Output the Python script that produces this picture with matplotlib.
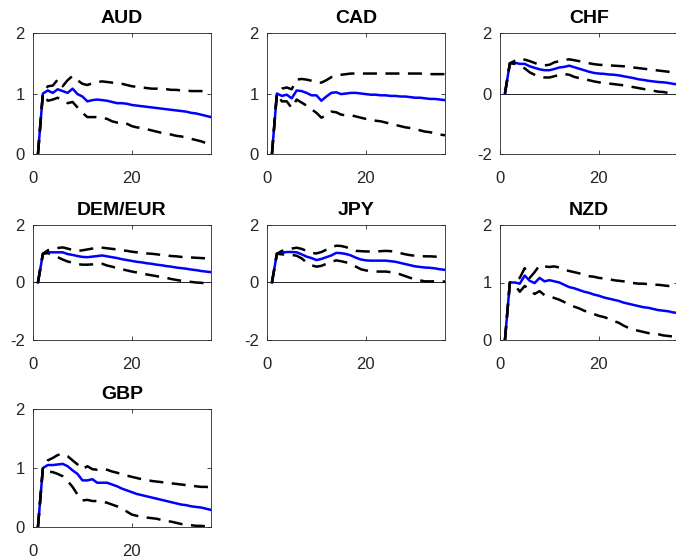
import numpy as np
import matplotlib
matplotlib.use("Agg")
import matplotlib.pyplot as plt

plt.rcParams["font.family"] = ["Liberation Sans", "DejaVu Sans"]
plt.rcParams["axes.unicode_minus"] = False

horizon = np.arange(1, 37)

titles = ["AUD", "CAD", "CHF", "DEM/EUR", "JPY", "NZD", "GBP"]
ylims = [(0, 2), (0, 2), (-2, 2), (-2, 2), (-2, 2), (0, 2), (0, 2)]
yticks = [[0, 1, 2], [0, 1, 2], [-2, 0, 2], [-2, 0, 2], [-2, 0, 2], [0, 1, 2], [0, 1, 2]]

aud_mid = [0, 1.00, 1.05, 1.01, 1.07, 1.04, 1.01, 1.08, 0.99, 0.95, 0.87, 0.89, 0.90, 0.89, 0.88, 0.86, 0.84, 0.84,
           0.83, 0.81, 0.80, 0.79, 0.78, 0.77, 0.76, 0.75, 0.74, 0.73, 0.72, 0.71, 0.70, 0.68, 0.67, 0.65, 0.63, 0.61]
aud_up = [0, 1.00, 1.12, 1.13, 1.23, 1.12, 1.22, 1.29, 1.22, 1.16, 1.14, 1.17, 1.19, 1.20, 1.19, 1.18, 1.17, 1.16,
          1.14, 1.12, 1.11, 1.10, 1.09, 1.08, 1.08, 1.07, 1.07, 1.06, 1.06, 1.05, 1.05, 1.04, 1.04, 1.04, 1.03, 1.03]
aud_lo = [0, 1.00, 0.88, 0.90, 0.93, 0.88, 0.84, 0.86, 0.77, 0.68, 0.61, 0.61, 0.61, 0.60, 0.58, 0.54, 0.52, 0.53,
          0.50, 0.46, 0.44, 0.43, 0.41, 0.39, 0.37, 0.35, 0.34, 0.32, 0.30, 0.29, 0.27, 0.25, 0.23, 0.21, 0.18, 0.16]

cad_mid = [0, 1.00, 0.96, 0.98, 0.92, 1.05, 1.04, 1.01, 0.97, 0.97, 0.88, 0.95, 1.01, 1.02, 0.99, 1.00, 1.01, 1.01,
           1.00, 0.99, 0.98, 0.98, 0.97, 0.97, 0.96, 0.96, 0.95, 0.95, 0.94, 0.93, 0.93, 0.92, 0.91, 0.91, 0.90, 0.89]
cad_up = [0, 1.00, 1.08, 1.10, 1.07, 1.23, 1.24, 1.23, 1.21, 1.18, 1.18, 1.22, 1.27, 1.30, 1.31, 1.32, 1.33, 1.33,
          1.33, 1.33, 1.33, 1.33, 1.33, 1.33, 1.33, 1.33, 1.33, 1.33, 1.33, 1.33, 1.33, 1.32, 1.32, 1.32, 1.32, 1.32]
cad_lo = [0, 1.00, 0.87, 0.87, 0.76, 0.90, 0.85, 0.80, 0.74, 0.68, 0.60, 0.64, 0.70, 0.69, 0.65, 0.64, 0.64, 0.62,
          0.60, 0.58, 0.57, 0.55, 0.54, 0.52, 0.50, 0.48, 0.46, 0.44, 0.43, 0.41, 0.39, 0.37, 0.36, 0.34, 0.32, 0.31]

chf_mid = [0, 1.00, 1.02, 0.98, 0.98, 0.90, 0.85, 0.80, 0.77, 0.77, 0.81, 0.86, 0.88, 0.92, 0.87, 0.82, 0.77, 0.72,
           0.68, 0.66, 0.65, 0.63, 0.62, 0.60, 0.57, 0.54, 0.51, 0.47, 0.45, 0.42, 0.40, 0.38, 0.37, 0.35, 0.32, 0.30]
chf_up = [0, 1.00, 1.08, 1.06, 1.12, 1.07, 1.01, 0.95, 0.93, 0.95, 1.03, 1.07, 1.11, 1.13, 1.10, 1.07, 1.04, 1.00,
          0.97, 0.95, 0.94, 0.93, 0.92, 0.91, 0.90, 0.88, 0.86, 0.84, 0.82, 0.80, 0.78, 0.76, 0.74, 0.72, 0.70, 0.68]
chf_lo = [0, 1.00, 0.98, 0.92, 0.83, 0.70, 0.62, 0.56, 0.53, 0.53, 0.57, 0.62, 0.64, 0.62, 0.55, 0.51, 0.48, 0.44,
          0.40, 0.37, 0.35, 0.33, 0.31, 0.29, 0.27, 0.24, 0.21, 0.18, 0.15, 0.12, 0.09, 0.06, 0.05, 0.02, 0.00, -0.02]

dem_mid = [0, 1.00, 1.05, 1.05, 1.05, 1.05, 0.99, 0.96, 0.92, 0.89, 0.88, 0.90, 0.92, 0.94, 0.91, 0.88, 0.85, 0.81,
           0.78, 0.75, 0.72, 0.70, 0.67, 0.65, 0.62, 0.60, 0.57, 0.55, 0.52, 0.50, 0.48, 0.45, 0.43, 0.40, 0.38, 0.36]
dem_up = [0, 1.00, 1.12, 1.16, 1.20, 1.22, 1.18, 1.13, 1.10, 1.12, 1.15, 1.18, 1.22, 1.21, 1.19, 1.17, 1.15, 1.12,
          1.10, 1.07, 1.05, 1.03, 1.01, 1.00, 0.98, 0.96, 0.94, 0.92, 0.91, 0.89, 0.88, 0.87, 0.86, 0.85, 0.84, 0.83]
dem_lo = [0, 1.00, 1.02, 0.95, 0.88, 0.80, 0.73, 0.69, 0.64, 0.62, 0.62, 0.63, 0.66, 0.65, 0.59, 0.55, 0.50, 0.46,
          0.42, 0.38, 0.35, 0.32, 0.28, 0.25, 0.22, 0.19, 0.16, 0.12, 0.09, 0.06, 0.04, 0.02, 0.00, -0.01, -0.03, -0.04]

jpy_mid = [0, 1.00, 1.04, 1.06, 1.06, 1.05, 0.98, 0.90, 0.85, 0.78, 0.82, 0.88, 0.94, 1.03, 1.02, 0.99, 0.94, 0.86,
           0.80, 0.77, 0.76, 0.76, 0.76, 0.76, 0.74, 0.72, 0.68, 0.64, 0.60, 0.56, 0.54, 0.52, 0.51, 0.49, 0.46, 0.44]
jpy_up = [0, 1.00, 1.10, 1.14, 1.18, 1.21, 1.17, 1.10, 1.03, 1.01, 1.06, 1.14, 1.22, 1.28, 1.27, 1.23, 1.15, 1.10,
          1.09, 1.08, 1.08, 1.08, 1.09, 1.10, 1.09, 1.07, 1.02, 0.98, 0.95, 0.93, 0.92, 0.91, 0.91, 0.90, 0.90, 0.90]
jpy_lo = [0, 1.00, 0.98, 0.97, 0.96, 0.93, 0.84, 0.70, 0.60, 0.55, 0.58, 0.65, 0.72, 0.77, 0.74, 0.70, 0.64, 0.55,
          0.46, 0.42, 0.40, 0.38, 0.38, 0.38, 0.36, 0.34, 0.28, 0.22, 0.16, 0.10, 0.07, 0.04, 0.04, 0.04, 0.04, 0.03]

nzd_mid = [0, 1.00, 1.00, 0.98, 1.12, 1.03, 0.99, 1.08, 1.02, 1.04, 1.02, 1.00, 0.96, 0.92, 0.90, 0.87, 0.84, 0.82,
           0.79, 0.77, 0.74, 0.72, 0.70, 0.68, 0.65, 0.63, 0.61, 0.59, 0.57, 0.56, 0.54, 0.52, 0.51, 0.50, 0.48, 0.47]
nzd_up = [0, 1.00, 1.02, 1.08, 1.25, 1.08, 1.18, 1.30, 1.28, 1.27, 1.28, 1.26, 1.22, 1.20, 1.18, 1.16, 1.13, 1.11,
          1.10, 1.08, 1.07, 1.06, 1.04, 1.03, 1.02, 1.00, 0.99, 0.98, 0.98, 0.97, 0.96, 0.96, 0.95, 0.94, 0.94, 0.93]
nzd_lo = [0, 1.00, 0.96, 0.84, 0.94, 0.88, 0.80, 0.85, 0.78, 0.76, 0.73, 0.70, 0.66, 0.61, 0.58, 0.55, 0.51, 0.48,
          0.45, 0.42, 0.40, 0.37, 0.33, 0.30, 0.25, 0.21, 0.18, 0.16, 0.14, 0.12, 0.11, 0.10, 0.08, 0.07, 0.06, 0.05]

gbp_mid = [0, 1.00, 1.05, 1.05, 1.06, 1.07, 1.03, 0.96, 0.90, 0.79, 0.79, 0.81, 0.75, 0.75, 0.75, 0.72, 0.69, 0.65,
           0.62, 0.59, 0.56, 0.54, 0.52, 0.50, 0.48, 0.46, 0.44, 0.42, 0.40, 0.38, 0.37, 0.35, 0.34, 0.33, 0.31, 0.29]
gbp_up = [0, 1.00, 1.13, 1.17, 1.22, 1.24, 1.20, 1.13, 1.06, 0.98, 1.03, 0.98, 0.97, 0.98, 0.97, 0.94, 0.92, 0.89,
          0.87, 0.85, 0.83, 0.81, 0.80, 0.78, 0.77, 0.76, 0.75, 0.74, 0.73, 0.72, 0.71, 0.70, 0.69, 0.68, 0.68, 0.67]
gbp_lo = [0, 1.00, 0.94, 0.93, 0.90, 0.86, 0.78, 0.68, 0.55, 0.45, 0.46, 0.44, 0.44, 0.43, 0.41, 0.38, 0.35, 0.31,
          0.26, 0.21, 0.19, 0.17, 0.16, 0.15, 0.14, 0.12, 0.10, 0.09, 0.07, 0.05, 0.04, 0.03, 0.02, 0.02, 0.01, 0.01]

mids = [aud_mid, cad_mid, chf_mid, dem_mid, jpy_mid, nzd_mid, gbp_mid]
ups = [aud_up, cad_up, chf_up, dem_up, jpy_up, nzd_up, gbp_up]
los = [aud_lo, cad_lo, chf_lo, dem_lo, jpy_lo, nzd_lo, gbp_lo]

W, H = 676, 556
col_left = [33, 267, 500]
row_top = [33, 225, 409]
row_bottom = [154, 340, 527]
ax_w = 178

fig = plt.figure(figsize=(W / 100, H / 100), dpi=100)
axis_gray = "#262626"
band_dash = (5.6, 3.4)

for i, name in enumerate(titles):
    r, c = divmod(i, 3)
    left = col_left[c] / W
    bottom = 1 - row_bottom[r] / H
    height = (row_bottom[r] - row_top[r]) / H
    ax = fig.add_axes([left, bottom, ax_w / W, height])

    ax.axhline(0, color="black", lw=0.6, zorder=1)
    ax.plot(horizon, mids[i], color="#0000ff", lw=1.8, zorder=2)
    ax.plot(horizon, ups[i], color="black", lw=1.8, dashes=band_dash, zorder=3)
    ax.plot(horizon, los[i], color="black", lw=1.8, dashes=band_dash, zorder=3)

    ax.set_xlim(0, 36)
    ax.set_ylim(*ylims[i])
    ax.set_xticks([0, 20])
    ax.set_yticks(yticks[i])
    ax.set_title(name, fontsize=14, fontweight="bold", pad=7.5)
    ax.tick_params(direction="in", length=3, width=0.6, colors=axis_gray, labelsize=12,
                   top=True, right=True, labelcolor=axis_gray)
    ax.tick_params(axis="x", pad=12)
    ax.tick_params(axis="y", pad=6)
    for sp in ax.spines.values():
        sp.set_color(axis_gray)
        sp.set_linewidth(0.6)

fig.savefig("out.png", dpi=100)
